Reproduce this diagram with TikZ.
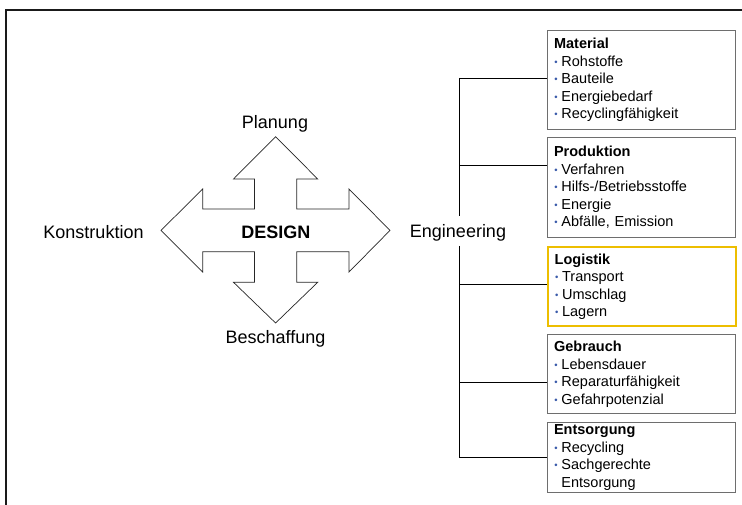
\documentclass[tikz,border=0pt]{standalone}
\usepackage{fontspec}
\setmainfont{Liberation Sans}
\definecolor{framegrey}{HTML}{1A1A1A}
\definecolor{boxgrey}{HTML}{6E6E6E}
\definecolor{dotblue}{HTML}{3A5BAA}
\definecolor{logyellow}{HTML}{EDBE00}
\newcommand{\bpt}{\leavevmode\hbox to 7.4pt{\hspace{0.3pt}\textcolor{dotblue}{\fontsize{9.5}{9.5}\selectfont\raisebox{0.9pt}{•}}\hfil}}
\newcommand{\bptgap}{\leavevmode\hbox to 7.4pt{\hfil}}
\tikzset{
  infobox/.style={draw=boxgrey, line width=1.1pt, anchor=north west,
    minimum width=188pt, text width=175pt, align=left,
    inner xsep=6.5pt, inner ysep=0pt,
    font=\fontsize{14.5}{17.5}\selectfont},
  biglabel/.style={anchor=base, inner sep=1pt, font=\fontsize{18}{20}\selectfont},
  branch/.style={draw=black, line width=0.9pt},
  bigarrow/.style={draw=black!85, line width=0.7pt, fill=white, line join=miter}
}
\begin{document}
\begin{tikzpicture}[x=1pt, y=-1pt]
\useasboundingbox (0,0) rectangle (742,505);

% outer frame: top and left edges only
\draw[framegrey, line width=2pt] (6,505) -- (6,10) -- (742,10);

% four-way arrow
\draw[bigarrow]
  (275.6,136.7) -- (317.7,179) -- (296.8,179) -- (296.8,209)
  -- (349,209) -- (349,189) -- (390,230.4) -- (349,272) -- (349,251.7)
  -- (296.8,251.7) -- (296.8,282.3) -- (317.7,282.3) -- (275.6,323)
  -- (233.5,282.3) -- (254.4,282.3) -- (254.4,251.7) -- (202.7,251.7)
  -- (202.7,272) -- (161,230.4) -- (202.7,189) -- (202.7,209)
  -- (254.4,209) -- (254.4,179) -- (233.5,179) -- cycle;

\node[biglabel, font=\fontsize{18}{20}\selectfont\bfseries] (design) at (275.8,238.3) {DESIGN};
\node[biglabel] (planung) at (275,128.3) {Planung};
\node[biglabel] (beschaffung) at (275.5,343) {Beschaffung};
\node[biglabel] (konstruktion) at (93.5,238.3) {Konstruktion};
\node[biglabel] (engineering) at (458,237.5) {Engineering};

% category boxes
\node[infobox, minimum height=99pt] (mat) at (547,30)
  {\textbf{Material}\\ \bpt Rohstoffe\\ \bpt Bauteile\\ \bpt Energiebedarf\\ \bpt Recyclingfähigkeit};
\node[infobox, minimum height=100pt] (prod) at (547,137)
  {\textbf{Produktion}\\ \bpt Verfahren\\ \bpt Hilfs-/Betriebsstoffe\\ \bpt Energie\\ \bpt Abfälle, Emission};
\node[infobox, draw=logyellow, line width=2.4pt, minimum height=79pt] (log) at (547,246)
  {\textbf{Logistik}\\ \bpt Transport\\ \bpt Umschlag\\ \bpt Lagern};
\node[infobox, minimum height=79pt] (geb) at (547,334)
  {\textbf{Gebrauch}\\ \bpt Lebensdauer\\ \bpt Reparaturfähigkeit\\ \bpt Gefahrpotenzial};
\node[infobox, minimum height=70pt] (ents) at (547,422)
  {\textbf{Entsorgung}\\ \bpt Recycling\\ \bpt Sachgerechte\\ \bptgap Entsorgung};

% branch tree from Engineering
\coordinate (jmat) at (459,78);
\coordinate (jprod) at (459,165);
\coordinate (jlog) at (459,284);
\coordinate (jgeb) at (459,382);
\coordinate (jents) at (459,457);
\coordinate (gaptop) at (459,216);
\coordinate (gapbot) at (459,246);
\draw[branch] (jmat) -- (gaptop);
\draw[branch] (gapbot) -- (jents);
\draw[branch] (jmat) -- (jmat -| mat.west);
\draw[branch] (jprod) -- (jprod -| prod.west);
\draw[branch] (jlog) -- (jlog -| log.west);
\draw[branch] (jgeb) -- (jgeb -| geb.west);
\draw[branch] (jents) -- (jents -| ents.west);
\end{tikzpicture}
\end{document}
